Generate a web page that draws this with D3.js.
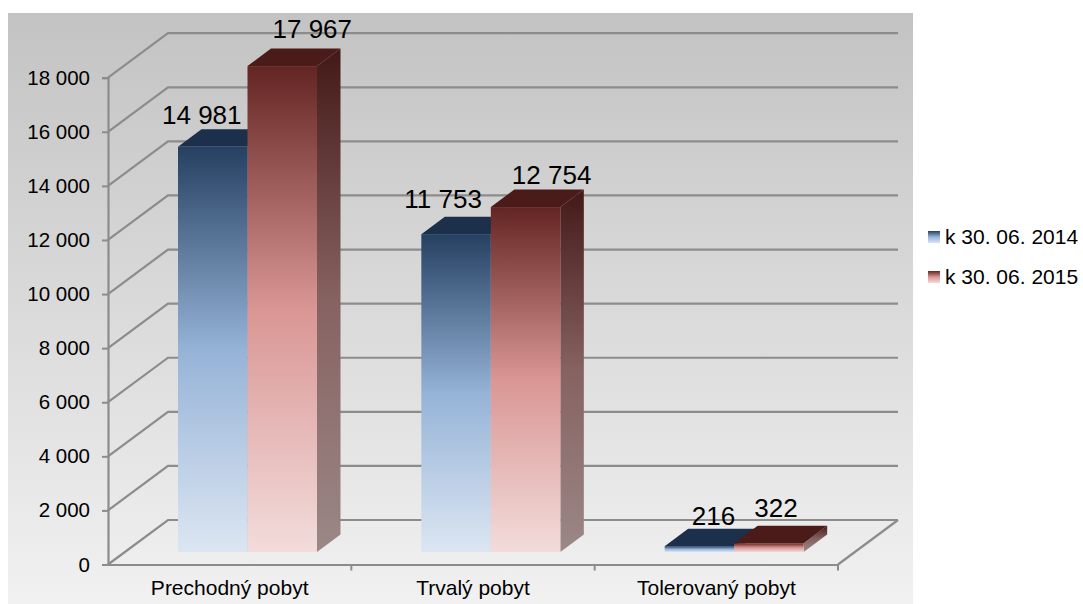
<!DOCTYPE html>
<html>
<head>
<meta charset="utf-8">
<script src="https://d3js.org/d3.v7.min.js"></script>
<style>
  html, body { margin: 0; padding: 0; background: #fff; }
  svg { display: block; font-family: "Liberation Sans", Arial, sans-serif; }
</style>
</head>
<body>
<div id="chart"></div>
<script>
const categories = ['Prechodný pobyt', 'Trvalý pobyt', 'Tolerovaný pobyt'];
const seriesNames = ['k 30. 06. 2014', 'k 30. 06. 2015'];
const values2014 = [14981, 11753, 216];
const values2015 = [17967, 12754, 322];
const yTicks = [0, 2000, 4000, 6000, 8000, 10000, 12000, 14000, 16000, 18000];

const width = 1083, height = 604;
const plot = { left: 108, right: 838, top: 77.7, bottom: 564.5 };
const wall = { dx: 60, dy: -44.5 };       // back wall offset from front plane
const barFront = { dy: -12.5 };           // bar front face sits in from the axis
const barDepth = { dx: 23.5, dy: -17.5 };
const barWidth = 69.5;

// hand placed labels in the original, offset from bar centre / top
const labelShift = [
  [{ x: -11, y: -23 }, { x: 30, y: -28 }],
  [{ x: -13, y: -26 }, { x: 26, y: -23 }],
  [{ x: 14, y: -21 }, { x: 7, y: -26 }],
];

const fmt = d => d3.format(',')(d).replace(/,/g, ' ');

const svg = d3.select('#chart').append('svg')
    .attr('width', width)
    .attr('height', height);

const defs = svg.append('defs');

function addGradient(id, stops) {
  const g = defs.append('linearGradient')
      .attr('id', id)
      .attr('x1', 0).attr('y1', 0).attr('x2', 0).attr('y2', 1);
  stops.forEach(s => g.append('stop').attr('offset', s[0]).attr('stop-color', s[1]));
}

addGradient('bg', [[0, '#c3c3c3'], [1, '#f1f1f1']]);
addGradient('front0', [[0, '#254061'], [0.5, '#95b3d7'], [1, '#dce6f2']]);
addGradient('front1', [[0, '#632523'], [0.5, '#d99694'], [1, '#f2dcdb']]);
addGradient('side0', [[0, '#162a44'], [0.5, '#66809a'], [1, '#9eaab8']]);
addGradient('side1', [[0, '#431917'], [0.5, '#866261'], [1, '#9b8887']]);

const topColours = ['#1c2f4b', '#4b1b19'];
const gridColour = '#8c8c8c';

svg.append('rect')
    .attr('x', 8).attr('y', 13)
    .attr('width', 905).attr('height', 591)
    .attr('fill', 'url(#bg)');

const y = d3.scaleLinear().domain([0, 18000]).range([plot.bottom, plot.top]);
const x = d3.scaleBand().domain(categories).range([plot.left, plot.right]);
const inner = d3.scaleBand().domain(seriesNames)
    .range([0, barWidth * 2]);

// gridlines on floor and back wall
const grid = svg.append('g').attr('fill', 'none').attr('stroke', gridColour).attr('stroke-width', 2.2);
grid.selectAll('path')
    .data(yTicks)
    .join('path')
    .attr('d', d => `M${plot.left},${y(d)}L${plot.left + wall.dx},${y(d) + wall.dy}H${plot.right + wall.dx}`);
grid.append('path')
    .attr('d', `M${plot.right},${y(0)}L${plot.right + wall.dx},${y(0) + wall.dy}`);

// axes
const yAxis = d3.axisLeft(y).tickValues(yTicks).tickFormat(fmt).tickSize(6).tickPadding(12);
const yG = svg.append('g').attr('transform', `translate(${plot.left},0)`).call(yAxis);
const xAxis = d3.axisBottom(x).tickSize(0).tickPadding(16);
const xG = svg.append('g').attr('transform', `translate(0,${plot.bottom})`).call(xAxis);

[yG, xG].forEach(g => {
  g.selectAll('.domain').attr('stroke', gridColour).attr('stroke-width', 2.2);
  g.selectAll('.tick line').attr('stroke', gridColour).attr('stroke-width', 2);
  g.selectAll('text').attr('fill', '#000').attr('font-family', '"Liberation Sans", Arial, sans-serif');
});
yG.selectAll('text').attr('font-size', 20.5);
xG.selectAll('text').attr('font-size', 21);

// x axis tick marks sit on category boundaries
svg.append('g').selectAll('line')
    .data(categories)
    .join('line')
    .attr('x1', d => x(d) + x.bandwidth()).attr('x2', d => x(d) + x.bandwidth())
    .attr('y1', plot.bottom).attr('y2', plot.bottom + 6)
    .attr('stroke', gridColour).attr('stroke-width', 2);

// bars
const barOriginX = d => x(d) + 70;
const heightOf = v => y(0) - y(v);
const floorY = y(0) + barFront.dy;

const seriesValues = [values2014, values2015];
const bars = svg.append('g');
seriesNames.forEach((name, s) => {
  categories.forEach((cat, c) => {
    const v = seriesValues[s][c];
    const x0 = barOriginX(cat) + inner(name);
    const x1 = x0 + inner.bandwidth();
    const yTop = floorY - heightOf(v);
    const g = bars.append('g');
    g.append('path')
        .attr('d', `M${x1},${yTop}L${x1 + barDepth.dx},${yTop + barDepth.dy}V${floorY + barDepth.dy}L${x1},${floorY}Z`)
        .attr('fill', `url(#side${s})`);
    g.append('path')
        .attr('d', `M${x0},${yTop}L${x0 + barDepth.dx},${yTop + barDepth.dy}H${x1 + barDepth.dx}L${x1},${yTop}Z`)
        .attr('fill', topColours[s]);
    g.append('rect')
        .attr('x', x0).attr('y', yTop)
        .attr('width', inner.bandwidth()).attr('height', floorY - yTop)
        .attr('fill', `url(#front${s})`);
  });
});

// data labels
seriesNames.forEach((name, s) => {
  svg.append('g').selectAll('text')
      .data(categories)
      .join('text')
      .attr('x', (d, c) => barOriginX(d) + inner(name) + inner.bandwidth() / 2 + labelShift[c][s].x)
      .attr('y', (d, c) => floorY - heightOf(seriesValues[s][c]) + labelShift[c][s].y)
      .attr('text-anchor', 'middle')
      .attr('font-size', 26)
      .attr('fill', '#000')
      .text((d, c) => fmt(seriesValues[s][c]));
});

// legend
const legendY = d3.scalePoint().domain(seriesNames).range([237, 277]);
const legend = svg.append('g').selectAll('g')
    .data(seriesNames)
    .join('g')
    .attr('transform', d => `translate(928,${legendY(d)})`);
legend.append('rect')
    .attr('y', -6).attr('width', 12).attr('height', 12)
    .attr('fill', (d, i) => `url(#front${i})`);
legend.append('text')
    .attr('x', 17).attr('y', 7)
    .attr('font-size', 21)
    .attr('fill', '#000')
    .text(d => d);
</script>
</body>
</html>
